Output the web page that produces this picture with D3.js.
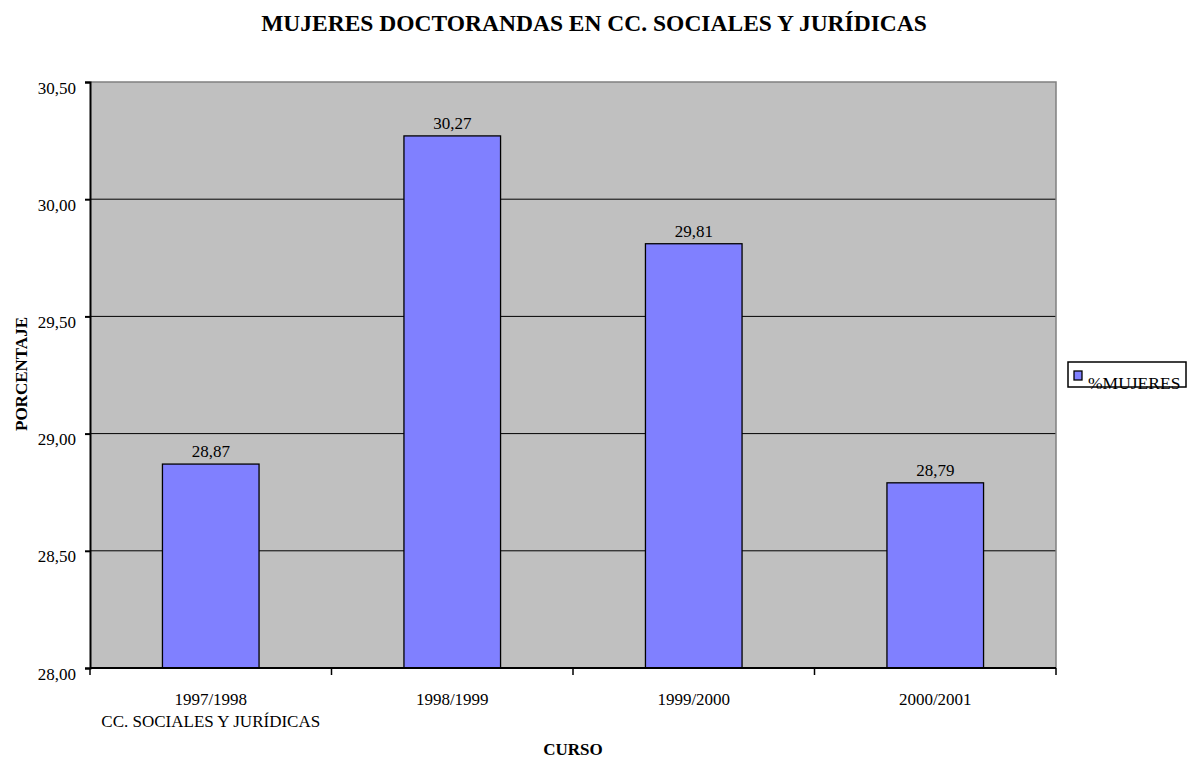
<!DOCTYPE html>
<html lang="es">
<head>
<meta charset="UTF-8">
<title>Mujeres doctorandas</title>
<script src="https://d3js.org/d3.v7.min.js"></script>
<style>
  body { margin: 0; background: #fff; }
  text { font-family: "Liberation Serif", "Times New Roman", serif; fill: #000; }
</style>
</head>
<body>
<script>
// Data
const cursos = ["1997/1998", "1998/1999", "1999/2000", "2000/2001"];
const mujeres = [28.87, 30.27, 29.81, 28.79];
const yTicks = [28.0, 28.5, 29.0, 29.5, 30.0, 30.5];
const grupo = "CC. SOCIALES Y JURÍDICAS";

const w = 1193, h = 760;
const m = { left: 90, right: 1056, top: 82, bottom: 668 };
const fs = 17;

const svg = d3.select("body").append("svg")
  .attr("width", w).attr("height", h);

const x = d3.scaleBand().domain(cursos).range([m.left, m.right]);
const y = d3.scaleLinear().domain([28, 30.5]).range([m.bottom, m.top]);
const fmt = v => v.toFixed(2).replace(".", ",");

// plot background
svg.append("rect")
  .attr("x", m.left).attr("y", m.top)
  .attr("width", m.right - m.left).attr("height", m.bottom - m.top)
  .attr("fill", "#c0c0c0");

// grid lines
svg.append("g").selectAll("line")
  .data(yTicks.filter(t => t > 28 && t < 30.5))
  .join("line")
  .attr("x1", m.left).attr("x2", m.right)
  .attr("y1", d => y(d)).attr("y2", d => y(d))
  .attr("stroke", "#000").attr("stroke-width", 1);

// top and right border
svg.append("path")
  .attr("d", `M${m.left},${y(30.5)}H${m.right}V${m.bottom}`)
  .attr("fill", "none").attr("stroke", "#808080").attr("stroke-width", 1.5);

// bars
const bw = x.bandwidth() * 0.4;
svg.append("g").selectAll("rect")
  .data(mujeres)
  .join("rect")
  .attr("x", (d, i) => x(cursos[i]) + (x.bandwidth() - bw) / 2)
  .attr("y", d => y(d))
  .attr("width", bw)
  .attr("height", d => y(28) - y(d))
  .attr("fill", "#8080ff").attr("stroke", "#000").attr("stroke-width", 1.3);

// value labels
svg.append("g").selectAll("text")
  .data(mujeres)
  .join("text")
  .attr("x", (d, i) => x(cursos[i]) + x.bandwidth() / 2)
  .attr("y", d => y(d) - 7)
  .attr("text-anchor", "middle")
  .attr("font-size", fs)
  .text(d => fmt(d));

// y axis
const yAxis = svg.append("g")
  .attr("transform", `translate(${m.left},0)`)
  .call(d3.axisLeft(y).tickValues(yTicks).tickSize(5).tickPadding(9).tickFormat(fmt));
yAxis.select(".domain").attr("stroke", "#000").attr("stroke-width", 2);
yAxis.selectAll(".tick line").attr("stroke", "#000").attr("stroke-width", 2);
yAxis.selectAll("text").attr("font-size", fs).attr("dy", null).attr("y", 11);

// x axis line and ticks at band boundaries
const xg = svg.append("g");
xg.append("line")
  .attr("x1", m.left).attr("x2", m.right)
  .attr("y1", m.bottom).attr("y2", m.bottom)
  .attr("stroke", "#000").attr("stroke-width", 2);
const bounds = cursos.map(c => x(c)).concat([m.right]);
xg.selectAll(".xt").data(bounds).join("line")
  .attr("x1", d => d).attr("x2", d => d)
  .attr("y1", m.bottom).attr("y2", m.bottom + 7)
  .attr("stroke", "#000").attr("stroke-width", 1.5);
xg.selectAll(".xl").data(cursos).join("text")
  .attr("x", d => x(d) + x.bandwidth() / 2)
  .attr("y", 705)
  .attr("text-anchor", "middle")
  .attr("font-size", fs)
  .text(d => d);
xg.append("text")
  .attr("x", x(cursos[0]) + x.bandwidth() / 2)
  .attr("y", 727)
  .attr("text-anchor", "middle")
  .attr("font-size", fs)
  .text(grupo);

// titles
svg.append("text")
  .attr("x", 594).attr("y", 31)
  .attr("text-anchor", "middle")
  .attr("font-size", 23.5).attr("font-weight", "bold")
  .text("MUJERES DOCTORANDAS EN CC. SOCIALES Y JURÍDICAS");
svg.append("text")
  .attr("x", 573).attr("y", 755)
  .attr("text-anchor", "middle")
  .attr("font-size", fs).attr("font-weight", "bold")
  .text("CURSO");
svg.append("text")
  .attr("transform", "translate(27,374) rotate(-90)")
  .attr("text-anchor", "middle")
  .attr("font-size", fs).attr("font-weight", "bold")
  .text("PORCENTAJE");

// legend
const lg = svg.append("g");
lg.append("rect")
  .attr("x", 1068).attr("y", 362).attr("width", 118).attr("height", 25)
  .attr("fill", "#fff");
lg.append("rect")
  .attr("x", 1074).attr("y", 371).attr("width", 8).attr("height", 9)
  .attr("fill", "#8080ff").attr("stroke", "#000").attr("stroke-width", 1.3);
lg.append("text")
  .attr("x", 1088).attr("y", 389)
  .attr("font-size", 17.5)
  .text("%MUJERES");
lg.append("rect")
  .attr("x", 1068).attr("y", 362).attr("width", 118).attr("height", 25)
  .attr("fill", "none").attr("stroke", "#000").attr("stroke-width", 1.5);
</script>
</body>
</html>
